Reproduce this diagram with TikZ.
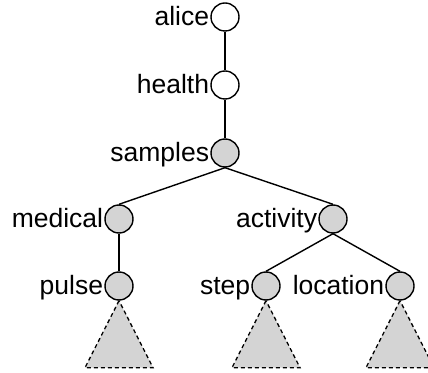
\documentclass[tikz,border=0pt]{standalone}
\usepackage{fontspec}
\setmainfont{Liberation Sans}
\begin{document}
\begin{tikzpicture}[x=1pt,y=1pt,
  vtx/.style={circle,draw,line width=1.4pt,minimum size=28pt,inner sep=0pt},
  hollow/.style={vtx,fill=white},
  full/.style={vtx,fill=black!17},
  lab/.style={anchor=base east,inner sep=0pt,font=\fontsize{26.5}{30}\selectfont},
  edge/.style={line width=1.4pt},
  subtree/.style={draw,dashed,dash pattern=on 4pt off 3pt,line width=1.3pt,fill=black!17}]
\useasboundingbox (0,0) rectangle (428,372);
\node[hollow] (alice) at (225,355) {};
\node[hollow] (health) at (225,287) {};
\node[full] (samples) at (225,219) {};
\node[full] (medical) at (119,153) {};
\node[full] (activity) at (333,153) {};
\node[full] (pulse) at (119,86) {};
\node[full] (step) at (266,86) {};
\node[full] (location) at (400,86) {};
\foreach \n in {alice,health,samples,medical,activity,pulse,step,location}
  \node[lab] at ([xshift=-1pt,yshift=-8.5pt]\n.west) {\n};
\draw[edge] (alice.south) -- (health.north);
\draw[edge] (health.south) -- (samples.north);
\draw[edge] (samples.south) -- (medical.north);
\draw[edge] (samples.south) -- (activity.north);
\draw[edge] (medical.south) -- (pulse.north);
\draw[edge] (activity.south) -- (step.north);
\draw[edge] (activity.south) -- (location.north);
\foreach \n in {pulse,step,location}
  \path[subtree] (\n.south) -- ++(-34,-67) -- ++(68,0) -- cycle;
\end{tikzpicture}
\end{document}
